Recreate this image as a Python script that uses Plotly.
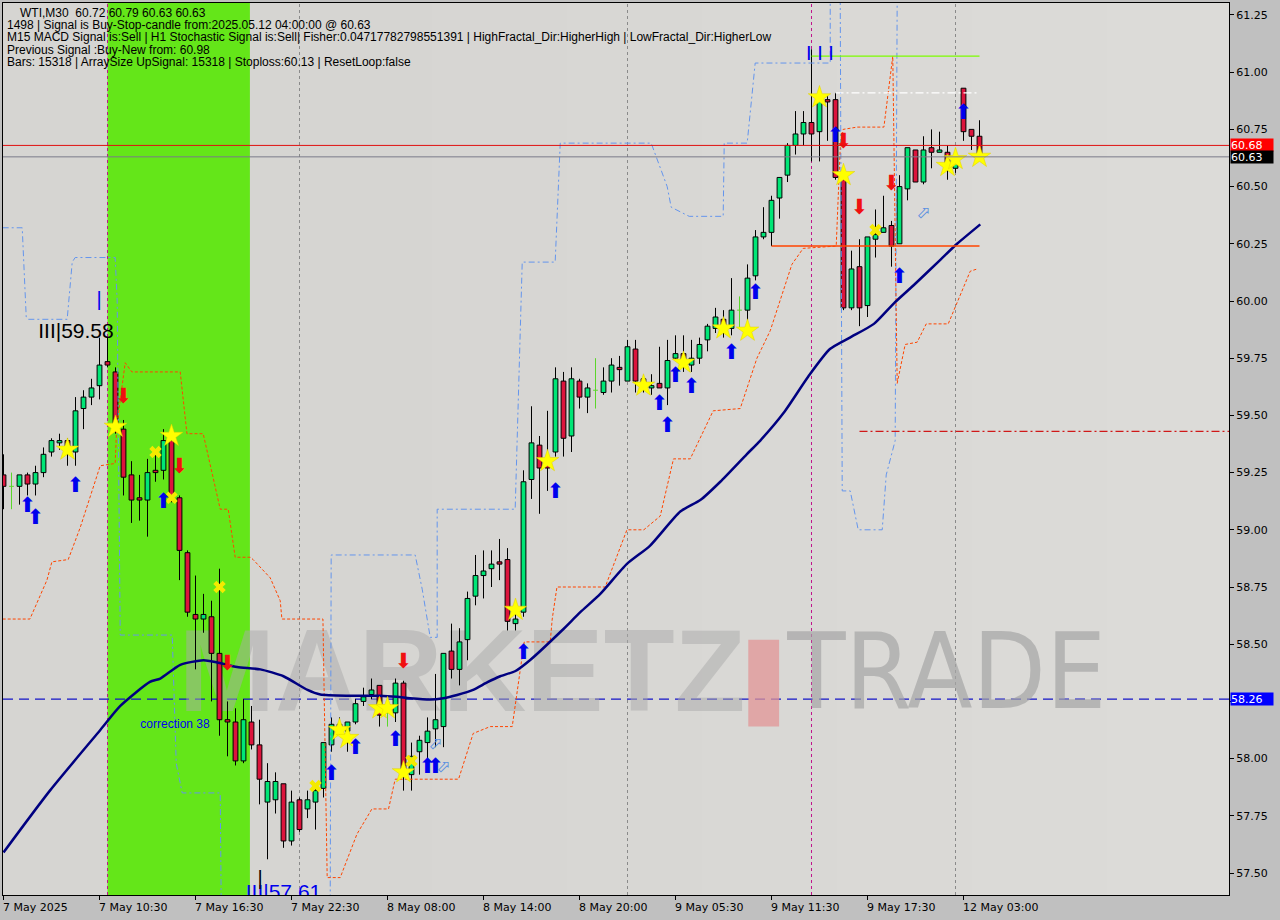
import plotly.graph_objects as go

# ---------------- data ----------------
opens = [59.24,59.19,59.19,59.24,59.20,59.25,59.34,59.38,59.39,59.34,
         59.53,59.58,59.63,59.735,59.69,59.44,59.24,59.14,59.13,59.26,
         59.26,59.39,59.14,58.90,58.63,58.61,58.62,58.46,58.17,58.16,
         57.99,58.16,58.06,57.81,57.82,57.89,57.64,57.82,57.78,57.81,
         57.87,58.06,58.15,58.12,58.16,58.25,58.28,58.32,58.21,58.20,
         58.33,57.93,58.03,58.07,58.13,58.14,58.47,58.39,58.52,58.71,
         58.80,58.83,58.86,58.87,58.59,58.64,59.22,59.37,59.30,59.34,
         59.65,59.41,59.65,59.58,59.61,59.60,59.65,59.71,59.65,59.79,
         59.66,59.62,59.64,59.62,59.75,59.77,59.72,59.75,59.83,59.88,
         59.92,59.88,59.96,59.96,60.11,60.28,60.30,60.45,60.55,60.68,
         60.73,60.78,60.74,60.88,60.88,60.53,59.97,60.15,59.98,60.27,
         60.30,60.33,60.25,60.49,60.66,60.52,60.67,60.65,60.65,60.58,
         60.93,60.75,60.72]
highs = [59.33,59.25,59.24,59.25,59.28,59.36,59.40,59.42,59.40,59.58,
         59.61,59.66,59.84,59.84,59.71,59.48,59.30,59.24,59.31,59.33,
         59.44,59.42,59.15,58.91,58.80,58.72,58.69,58.83,58.25,58.22,
         58.26,58.23,58.17,57.98,57.94,57.89,57.86,57.83,57.86,57.87,
         58.07,58.18,58.18,58.16,58.26,58.31,58.35,58.32,58.22,58.35,
         58.34,58.07,58.10,58.18,58.37,58.46,58.59,58.57,58.73,58.89,
         58.91,58.91,58.96,58.92,58.66,59.26,59.54,59.41,59.52,59.71,
         59.69,59.71,59.66,59.64,59.75,59.71,59.75,59.76,59.83,59.83,
         59.67,59.68,59.80,59.83,59.85,59.85,59.83,59.84,59.90,59.97,
         59.96,60.10,60.02,60.16,60.31,60.41,60.46,60.54,60.69,60.83,
         60.83,61.10,60.92,60.90,60.91,60.55,60.22,60.27,60.28,60.40,
         60.46,60.35,60.55,60.67,60.66,60.72,60.75,60.74,60.68,60.64,
         60.93,60.75,60.79]
lows = [59.09,59.09,59.11,59.15,59.15,59.23,59.32,59.35,59.28,59.28,
        59.44,59.545,59.57,59.71,59.42,59.15,59.03,59.04,58.97,59.21,
        59.22,59.12,58.78,58.62,58.39,58.55,58.25,58.10,58.01,57.97,
        57.98,58.04,57.80,57.56,57.76,57.61,57.62,57.68,57.74,57.69,
        57.83,58.03,58.10,58.03,58.15,58.23,58.26,58.14,58.14,58.16,
        57.86,57.86,57.93,57.95,58.05,58.05,58.35,58.32,58.43,58.67,
        58.70,58.75,58.78,58.56,58.56,58.62,59.135,59.07,59.17,59.32,
        59.32,59.34,59.53,59.51,59.53,59.59,59.60,59.63,59.65,59.60,
        59.60,59.59,59.62,59.545,59.74,59.69,59.69,59.725,59.78,59.86,
        59.84,59.85,59.88,59.91,60.09,60.27,60.24,60.36,60.52,60.64,
        60.68,60.61,60.61,60.70,60.53,59.96,59.96,59.89,59.93,60.19,
        60.30,60.15,60.25,60.44,60.52,60.51,60.58,60.65,60.53,60.56,
        60.70,60.66,60.63]
closes = [59.19,59.19,59.24,59.20,59.25,59.33,59.39,59.39,59.35,59.52,
          59.58,59.62,59.72,59.72,59.455,59.23,59.13,59.13,59.25,59.25,
          59.39,59.14,58.91,58.64,58.61,58.63,58.46,58.17,58.16,57.99,
          58.17,58.06,57.91,57.90,57.90,57.64,57.81,57.69,57.82,57.86,
          58.07,58.15,58.12,58.16,58.24,58.27,58.30,58.19,58.21,58.33,
          57.95,58.01,58.08,58.12,58.17,58.46,58.39,58.51,58.70,58.80,
          58.82,58.85,58.85,58.60,58.61,59.21,59.38,59.27,59.27,59.66,
          59.40,59.66,59.58,59.62,59.61,59.65,59.72,59.70,59.80,59.65,
          59.63,59.63,59.62,59.74,59.77,59.73,59.75,59.81,59.89,59.93,
          59.89,59.96,59.96,60.10,60.28,60.30,60.44,60.54,60.68,60.73,
          60.78,60.73,60.89,60.87,60.54,59.97,60.14,59.97,60.28,60.29,
          60.32,60.24,60.50,60.67,60.52,60.66,60.65,60.66,60.59,60.60,
          60.74,60.72,60.63]

tick_bars = [0, 12, 24, 36, 48, 60, 72, 84, 96, 108, 120]
tick_labels = ["7 May 2025", "7 May 10:30", "7 May 16:30", "7 May 22:30", "8 May 08:00",
               "8 May 14:00", "8 May 20:00", "9 May 05:30", "9 May 11:30", "9 May 17:30",
               "12 May 03:00"]
price_ticks = [57.50, 57.75, 58.00, 58.25, 58.50, 58.75, 59.00, 59.25,
               59.50, 59.75, 60.00, 60.25, 60.50, 60.75, 61.00, 61.25]

ma_bars = [0, 5.8, 12.1, 14.6, 18.3, 19.6, 22.1, 25, 26.7, 29.2, 32.1, 35, 38, 39.6,
           43.3, 47.1, 49.2, 50.8, 53.3, 55, 56.7, 58.7, 60.5, 62.1, 64, 65.8, 69.8,
           72.1, 74.6, 77.9, 80.8, 84.6, 87.1, 89.6, 92.9, 94.6, 97.5, 100.6, 103.3,
           105.8, 108.8, 111.3, 113.8, 117.1, 119.2, 122.1]
ma_values = [57.59, 57.86, 58.125, 58.23, 58.335, 58.35, 58.41, 58.43, 58.42, 58.40,
             58.39, 58.36, 58.30, 58.28, 58.275, 58.275, 58.27, 58.264, 58.258, 58.264,
             58.278, 58.30, 58.334, 58.36, 58.383, 58.43, 58.56, 58.64, 58.72, 58.85,
             58.93, 59.08, 59.13, 59.21, 59.33, 59.39, 59.51, 59.67, 59.79, 59.84,
             59.90, 59.99, 60.07, 60.18, 60.25, 60.335]

band_bars = [-0.1, 3.3, 5.43, 6.05, 8.09, 9.59, 12.09, 13.96, 14.15, 15.21, 16.05, 22.09,
             22.93, 24.96, 27.09, 28.09, 28.96, 30.84, 31.2, 33.34, 34.59, 34.8, 39.93,
             40.46, 42.09, 44.18, 46.05, 48.13, 48.96, 56.88, 58.71, 60.84, 63.59, 65.09,
             68.34, 68.59, 69.18, 75.21, 77.93, 80.04, 82.09, 83.75, 85.84, 88.71, 92.09,
             94.18, 95.84, 98.55, 99.96, 104.09, 104.59, 104.96, 106.7, 110.05, 111.16,
             111.71, 112.71, 114.21, 115.34, 118.09, 120.84, 121.71]
band_prices = [58.61, 58.61, 58.78, 58.86, 58.87, 59.01, 59.28, 59.29, 59.45, 59.73, 59.69,
               59.69, 59.42, 59.42, 59.09, 59.09, 58.88, 58.88, 58.87, 58.79, 58.69, 58.61,
               58.61, 57.48, 57.48, 57.67, 57.78, 57.78, 57.91, 57.91, 58.11, 58.14, 58.14,
               58.51, 58.51, 58.61, 58.75, 58.75, 59.00, 59.00, 59.06, 59.31, 59.31, 59.52,
               59.53, 59.75, 59.87, 60.16, 60.23, 60.24, 60.67, 60.75, 60.76, 60.76, 61.07,
               59.64, 59.81, 59.82, 59.90, 59.90, 60.13, 60.14]

channel_bars = [-0.1, 2.34, 2.84, 3.09, 7.96, 8.59, 8.96, 13.96, 14.21, 14.59, 21.09, 21.59,
                22.34, 27.09, 27.21, None,
                40.84, 40.96, 51.46, 52.34, 53.34, 54.21, 54.21, 63.96, 64.84, 68.96, 69.59,
                80.96, 82.96, 83.46, 85.71, 89.96, 90.09, 92.96, 93.96, 103.34, 103.34, None,
                104.59, 104.84, 105.84, 106.84, 109.84, 110.34, 111.46, 111.71]
channel_prices = [60.32, 60.32, 59.93, 59.92, 59.92, 60.17, 60.19, 60.19, 60.00, 58.54, 58.54,
                  57.98, 57.85, 57.85, 57.38, None,
                  57.38, 58.89, 58.89, 58.74, 58.53, 58.53, 59.09, 59.09, 60.17, 60.17, 60.69,
                  60.69, 60.50, 60.41, 60.37, 60.37, 60.69, 60.69, 61.04, 61.04, 61.32, None,
                  61.32, 59.17, 59.17, 59.00, 59.00, 59.24, 59.39, 61.32]

star_bars = [8, 14, 21, 42, 43, 47, 48, 50, 64, 68, 80, 85, 90, 93, 102, 105, 118, 119, 122]
star_prices = [59.35, 59.45, 59.41, 58.125, 58.09, 58.22, 58.22, 57.94, 58.65, 59.30, 59.63,
               59.73, 59.88, 59.87, 60.89, 60.55, 60.59, 60.62, 60.63]
cross_bars = [19, 21, 27, 39, 51, 109]
cross_prices = [59.34, 59.14, 58.75, 57.88, 57.99, 60.31]
buy_bars = [3, 4, 9, 20, 41, 44, 49, 53, 54, 65, 69, 82, 83, 84, 86, 91, 94, 104, 112, 120]
buy_prices = [59.10, 59.05, 59.19, 59.12, 57.93, 58.045, 58.08, 57.96, 57.96, 58.46, 59.16,
              59.545, 59.45, 59.67, 59.62, 59.77, 60.03, 60.72, 60.10, 60.82]
sell_bars = [15, 22, 28, 50, 105, 107, 111]
sell_prices = [59.575, 59.27, 58.41, 58.42, 60.69, 60.405, 60.51]
hollow_bars = [54, 55, 115]
hollow_prices = [58.06, 57.96, 60.38]

level_prices = [61.07, 60.91, 60.24, 59.43]
level_from = [101, 104, 96, 107]
level_to = [122, 122, 122, 154]

bid_price = 60.63
ask_price = 60.68
stop_level = 58.26
green_zone = [13, 30.8]
grid_bars = [37, 78, 119]
separator_bars = [13, 101]

header_lines = [
    "WTI,M30  60.72 60.79 60.63 60.63",
    "1498 | Signal is Buy-Stop-candle from:2025.05.12 04:00:00 @ 60.63",
    "M15 MACD Signal is:Sell | H1 Stochastic Signal is:Sell| Fisher:0.04717782798551391 | HighFractal_Dir:HigherHigh | LowFractal_Dir:HigherLow",
    "Previous Signal :Buy-New from: 60.98",
    "Bars: 15318 | ArraySize UpSignal: 15318 | Stoploss:60.13 | ResetLoop:false",
]

# ---------------- figure ----------------
X0, X1 = -0.0625, -0.0625 + 1226 / 8
Y0, Y1 = 57.4039, 61.3024
GREEN, RED, LIME = "#00E676", "#DC143C", "#5BD62B"
FONT = "Liberation Sans, Arial, sans-serif"

fig = go.Figure()

# watermark on the base subplot (drawn below every chart trace)
fig.add_trace(go.Scatter(x=[57.3], y=[58.335], mode="text", text=["MARKETZ"],
                         textfont=dict(family="Liberation Sans", size=116, weight="bold",
                                       color="rgba(170,170,170,0.5)"),
                         hoverinfo="skip", xaxis="x", yaxis="y"))
fig.add_trace(go.Scatter(x=[117.9], y=[58.335], mode="text", text=["TRADE"],
                         textfont=dict(family="Liberation Sans Narrow, DejaVu Sans Condensed, Liberation Sans",
                                       size=106, color="rgba(165,165,165,0.7)"),
                         hoverinfo="skip", xaxis="x", yaxis="y"))

# split candles
up_x, up_b, up_h, dn_x, dn_b, dn_h = [], [], [], [], [], []
wx, wy, dx, dy = [], [], [], []
for k, (o, h, l, c) in enumerate(zip(opens, highs, lows, closes)):
    top, bot = max(o, c), min(o, c)
    if c == o:
        dx += [k, k, None, k - 0.3, k + 0.3, None]
        dy += [l, h, None, o, o, None]
        continue
    if c > o:
        up_x.append(k); up_b.append(bot); up_h.append(top - bot)
    else:
        dn_x.append(k); dn_b.append(bot); dn_h.append(top - bot)
    wx += [k, k, None, k, k, None]
    wy += [h, top, None, bot, l, None]

fig.add_trace(go.Scatter(x=wx, y=wy, mode="lines", line=dict(color="black", width=1),
                         hoverinfo="skip", xaxis="x2", yaxis="y2"))
fig.add_trace(go.Scatter(x=dx, y=dy, mode="lines", line=dict(color=LIME, width=1),
                         hoverinfo="skip", xaxis="x2", yaxis="y2"))
fig.add_trace(go.Bar(x=up_x, y=up_h, base=up_b, width=0.6,
                     marker=dict(color=GREEN, line=dict(color="black", width=1)),
                     xaxis="x2", yaxis="y2"))
fig.add_trace(go.Bar(x=dn_x, y=dn_h, base=dn_b, width=0.6,
                     marker=dict(color=RED, line=dict(color="black", width=1)),
                     xaxis="x2", yaxis="y2"))

# indicator lines
fig.add_trace(go.Scatter(x=channel_bars, y=channel_prices, mode="lines", connectgaps=False,
                         line=dict(color="#6495ED", width=1, dash="6px,3px,2px,3px"),
                         xaxis="x2", yaxis="y2"))
fig.add_trace(go.Scatter(x=band_bars, y=band_prices, mode="lines",
                         line=dict(color="#FF4500", width=1, dash="3px,2px"),
                         xaxis="x2", yaxis="y2"))
fig.add_trace(go.Scatter(x=ma_bars, y=ma_values, mode="lines",
                         line=dict(color="#000080", width=2.5, shape="spline", smoothing=0.6),
                         xaxis="x2", yaxis="y2"))

level_styles = [dict(color="#7CFC00", width=1.2), dict(color="white", width=1.2, dash="8px,3px,2px,3px"),
                dict(color="#FF4500", width=1.5), dict(color="#D01818", width=1.2, dash="8px,3px,2px,3px")]
for p, a, b, st in zip(level_prices, level_from, level_to, level_styles):
    fig.add_trace(go.Scatter(x=[a, b], y=[p, p], mode="lines", line=st, xaxis="x2", yaxis="y2"))

# signal markers
fig.add_trace(go.Scatter(x=cross_bars, y=cross_prices, mode="markers",
                         marker=dict(symbol="x", size=11, color="#F4EA00", line=dict(width=0)),
                         xaxis="x2", yaxis="y2"))
fig.add_trace(go.Scatter(x=star_bars, y=star_prices, mode="markers",
                         marker=dict(symbol="star", size=17, color="#FFFF00", line=dict(color="#E0D000", width=0.5)),
                         xaxis="x2", yaxis="y2"))
fig.add_trace(go.Scatter(x=buy_bars, y=buy_prices, mode="text", text=["⬆"] * len(buy_bars),
                         textfont=dict(family="DejaVu Sans", size=21, color="#0000EE"),
                         xaxis="x2", yaxis="y2"))
fig.add_trace(go.Scatter(x=sell_bars, y=sell_prices, mode="text", text=["⬇"] * len(sell_bars),
                         textfont=dict(family="DejaVu Sans", size=21, color="#F01010"),
                         xaxis="x2", yaxis="y2"))
fig.add_trace(go.Scatter(x=hollow_bars, y=hollow_prices, mode="text", text=["⬀"] * len(hollow_bars),
                         textfont=dict(family="DejaVu Sans", size=17, color="#5B8FE0"),
                         xaxis="x2", yaxis="y2"))

# fractal labels and notes
fig.add_trace(go.Scatter(x=[9.06], y=[59.862], mode="text", text=["III|59.58"],
                         textfont=dict(family=FONT, size=21, color="black"), xaxis="x2", yaxis="y2"))
fig.add_trace(go.Scatter(x=[11.94], y=[59.998], mode="text", text=["|"],
                         textfont=dict(family=FONT, size=20, color="#0000EE"), xaxis="x2", yaxis="y2"))
fig.add_trace(go.Scatter(x=[35.0], y=[57.41], mode="text", text=["III|57.61"],
                         textfont=dict(family=FONT, size=21, color="#0000EE"), xaxis="x2", yaxis="y2"))
fig.add_trace(go.Scatter(x=[32.06], y=[57.47], mode="text", text=["|"],
                         textfont=dict(family=FONT, size=20, color="black"), xaxis="x2", yaxis="y2"))
fig.add_trace(go.Scatter(x=[102.06], y=[61.073], mode="text", text=["I I I"],
                         textfont=dict(family=FONT, size=20, color="#0000EE"), xaxis="x2", yaxis="y2"))
fig.add_trace(go.Scatter(x=[21.44], y=[58.147], mode="text", text=["correction 38"],
                         textfont=dict(family=FONT, size=12, color="#0000EE"), xaxis="x2", yaxis="y2"))

shapes = []
# soft lighter right-hand background
for i in range(6):
    shapes.append(dict(type="rect", xref="paper", yref="paper", x0=0.35 + i * 0.11, x1=1, y0=0, y1=1,
                       fillcolor="rgba(255,255,255,0.045)", line=dict(width=0), layer="below"))
shapes += [
    dict(type="rect", xref="x", yref="paper", x0=green_zone[0], x1=green_zone[1], y0=0, y1=1,
         fillcolor="#64E619", line=dict(width=0), layer="below"),
    dict(type="rect", xref="x", yref="y", x0=93.1, x1=96.95, y0=58.14, y1=58.52,
         fillcolor="rgba(225,150,150,0.75)", line=dict(width=0), layer="below"),
]
for b in grid_bars:
    shapes.append(dict(type="line", xref="x", yref="paper", x0=b, x1=b, y0=0, y1=1,
                       line=dict(color="#8A8A8A", width=1, dash="3px,3px"), layer="below"))
for b in separator_bars:
    shapes.append(dict(type="line", xref="x", yref="paper", x0=b, x1=b, y0=0, y1=1,
                       line=dict(color="#C0148C", width=1, dash="3px,3px"), layer="below"))
shapes.append(dict(type="line", xref="paper", yref="y", x0=0, x1=1, y0=stop_level, y1=stop_level,
                   line=dict(color="#1414C8", width=1.2, dash="10px,6px"), layer="below"))
shapes.append(dict(type="line", xref="paper", yref="y", x0=0, x1=1, y0=ask_price, y1=ask_price,
                   line=dict(color="#E01010", width=1)))
shapes.append(dict(type="line", xref="paper", yref="y", x0=0, x1=1, y0=bid_price, y1=bid_price,
                   line=dict(color="#7A7A8A", width=1)))

annotations = []
for b, lab in zip(tick_bars, tick_labels):
    annotations.append(dict(x=b, xref="x", y=0, yref="paper", xanchor="left", yanchor="top",
                            text=lab, showarrow=False, xshift=-3, yshift=-4,
                            font=dict(family="DejaVu Sans", size=11, color="black")))
for price, col in [(ask_price, "#FF0000"), (bid_price, "#000000"), (stop_level, "#0000FF")]:
    annotations.append(dict(x=1, xref="paper", y=price, yref="y", xanchor="left", yanchor="middle",
                            text=f"{price:.2f}", showarrow=False, xshift=1, bgcolor=col,
                            width=42, height=12, borderpad=0, align="left",
                            font=dict(family="DejaVu Sans", size=11, color="white")))
centers = [12.7, 25, 37.3, 50, 61.7]
for i, (line, cy) in enumerate(zip(header_lines, centers)):
    annotations.append(dict(x=0, xref="paper", y=1, yref="paper", xanchor="left", yanchor="middle",
                            text=line, showarrow=False, xshift=(15 if i == 0 else 2), yshift=-(cy - 3),
                            font=dict(family=FONT, size=12, color="black")))

fig.update_layout(
    width=1280, height=920,
    margin=dict(l=3, r=51, t=3, b=25, pad=0),
    paper_bgcolor="#C0C0C0", plot_bgcolor="#D6D5D2",
    showlegend=False, barmode="overlay", hovermode=False,
    xaxis=dict(range=[X0, X1], tickvals=tick_bars, ticktext=[""] * len(tick_bars), ticks="outside",
               ticklen=4, tickcolor="black", showgrid=False, zeroline=False, showline=True,
               linecolor="black", linewidth=1, mirror=True, fixedrange=True),
    yaxis=dict(range=[Y0, Y1], side="right", tickvals=price_ticks,
               ticktext=[f"{v:.2f}" for v in price_ticks], ticks="outside", ticklen=4,
               tickcolor="black", showgrid=False, zeroline=False, showline=True, linecolor="black",
               linewidth=1, mirror=True, fixedrange=True,
               tickfont=dict(family="DejaVu Sans", size=11, color="black")),
    xaxis2=dict(range=[X0, X1], overlaying="x", visible=False, fixedrange=True),
    yaxis2=dict(range=[Y0, Y1], overlaying="y", visible=False, fixedrange=True),
    shapes=shapes, annotations=annotations,
)

fig.write_html("out.html", config={"displayModeBar": False},
               post_script="document.body.style.margin='0px';")
